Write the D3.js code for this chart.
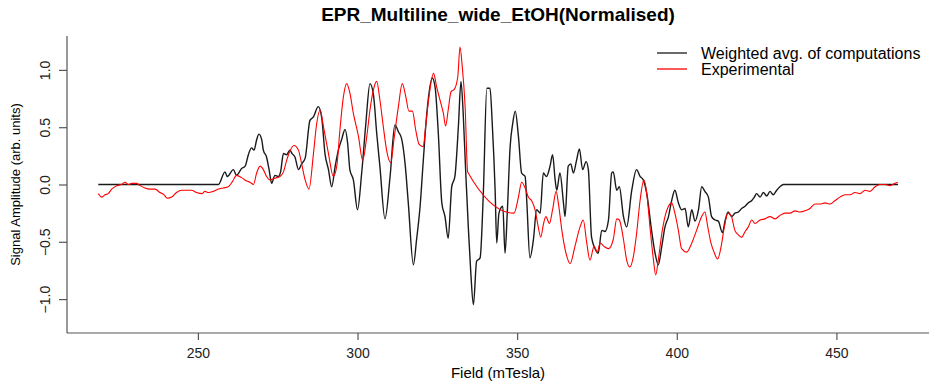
<!DOCTYPE html>
<html>
<head>
<meta charset="utf-8">
<script src="https://cdn.jsdelivr.net/npm/d3@7"></script>
<style>
  body { margin: 0; background: #fff; }
  svg { display: block; font-family: "Liberation Sans", Arial, sans-serif; }
  .axis path, .axis line { stroke: #555; stroke-width: 1.2; }
  .axis text { fill: #222; font-size: 14px; }
</style>
</head>
<body>
<svg width="929" height="384"></svg>
<script>
// Weighted avg. of computations (field in mT, normalised amplitude)
var compField = [218.8, 256.4, 258.5, 259.2, 261.1, 262.1, 263.7, 264.8, 265.8, 266.8, 267.6, 268.4, 269.1, 270.0, 270.5, 271.5, 272.3, 273.1, 274.1, 275.2, 275.9, 276.8, 277.8, 278.8, 279.5,
  280.4, 281.5, 282.5, 283.6, 285.1, 286.2, 287.7, 288.8, 289.8, 290.9, 291.9, 293.0, 294.0, 295.0, 296.1, 296.9, 297.6, 298.7, 300.0, 301.3, 302.6, 303.9, 305.0, 306.0, 307.0, 308.6, 310.2, 311.7, 312.8, 313.8, 314.9, 315.9, 317.5, 318.5, 319.6, 320.6, 321.7, 323.4, 324.3, 325.3, 326.4, 327.4, 328.4, 329.5, 330.5, 331.6, 332.4, 333.1, 333.9, 334.7, 335.5, 336.3, 337.3, 338.4, 339.4, 340.5, 341.5, 342.2, 343.1, 343.6, 344.3,
  345.5, 346.2, 346.9, 347.8, 348.6, 349.4, 350.4, 351.4, 352.5, 353.0, 354.0, 355.1, 356.1, 357.2, 358.2, 359.2, 360.3, 361.1, 361.9, 362.4, 363.4, 364.5, 365.0, 366.0, 366.8, 367.6, 368.6, 369.5, 370.5, 371.6, 372.3, 373.3, 374.4, 375.4, 376.5, 377.5, 378.6, 379.6, 380.1, 381.2, 382.0, 383.3, 384.3, 385.9, 387.4, 388.5, 389.5, 390.6, 392.1, 393.2, 394.2, 395.3, 396.3, 397.4, 398.4, 399.4, 400.5, 401.5, 402.6, 403.6, 404.7, 405.7, 406.8, 407.8, 408.8,
  409.9, 410.9, 412.0, 413.0, 414.3, 415.1, 416.1, 417.2, 418.2, 419.3, 420.3, 421.4, 422.4, 423.5, 424.3, 425.0, 426.1, 427.1, 428.2, 429.2, 430.2, 431.3, 432.3, 433.4, 469.3];
var compAmp = [0, 0, 0.11, 0.07, 0.13, 0.08, 0.14, 0.16, 0.26, 0.32, 0.30, 0.39, 0.44, 0.39, 0.30, 0.24, 0.13, 0.01, 0.08, 0.07, 0.11, 0.27, 0.26, 0.30, 0.27,
  0.24, 0.13, 0.18, 0.23, 0.56, 0.59, 0.68, 0.58, 0.27, 0.13, -0.02, 0.16, 0.30, 0.39, 0.48, 0.36, 0.13, 0.04, -0.22, 0.10, 0.53, 0.88, 0.78, 0.45, 0.16, -0.30, 0.07, 0.52, 0.46, 0.40, 0.18, -0.16, -0.70, -0.48, -0.19, 0.21, 0.62, 0.93, 0.85, 0.45, -0.16, -0.28, -0.47, -0.02, 0.07, 0.51, 0.90, 0.62, 0.10, -0.37, -0.78, -1.05, -0.67, -0.64, -0.08, 0.84, 0.84, 0.53, -0.05, -0.51, -0.25,
  -0.19, -0.60, -0.25, 0.33, 0.53, 0.64, 0.42, 0.10, 0.07, -0.14, -0.64, -0.48, -0.22, -0.25, 0.10, 0.07, 0.16, 0.26, 0.04, -0.05, 0.10, -0.16, -0.28, 0.16, 0.18, 0.10, 0.21, 0.31, 0.13, 0.20, 0.13, -0.46, -0.56, -0.60, -0.40, -0.41, -0.31, 0.10, 0.11, -0.05, -0.02, -0.28, -0.37, -0.05, 0.13, 0.07, 0.04, -0.08, -0.40, -0.60, -0.70, -0.54, -0.37, -0.28, -0.14, -0.05, -0.16, -0.22, -0.21, -0.37, -0.22, -0.32, -0.22, -0.02, -0.06,
  -0.11, -0.28, -0.31, -0.32, -0.42, -0.32, -0.24, -0.28, -0.25, -0.24, -0.21, -0.19, -0.16, -0.14, -0.11, -0.08, -0.11, -0.07, -0.10, -0.06, -0.09, -0.05, -0.02, 0, 0];

// Experimental spectrum
var expField = [218.8, 219.9, 220.9, 221.9, 223.0, 224.6, 226.1, 227.2, 228.2, 229.3, 230.8, 231.9, 233.4, 235.0, 236.6, 238.1, 239.4, 240.4, 241.8, 243.3, 244.9, 246.5, 248.0, 249.6, 251.2, 252.2, 253.3, 254.8, 256.4, 258.0, 259.5, 260.9, 262.1, 263.7, 265.3, 266.3, 267.4, 268.4, 269.5, 270.5, 271.5, 272.6, 273.6, 274.7, 275.7, 276.8, 277.8, 278.8, 280.1,
  281.5, 282.5, 283.6, 284.8, 286.2, 287.2, 288.3, 289.3, 290.9, 292.4, 293.5, 294.5, 295.6, 296.6, 297.6, 298.7, 300.3, 301.6, 302.9, 303.9, 305.0, 306.0, 307.0, 308.1, 309.1, 310.4, 311.4, 312.8, 314.0, 315.1, 316.1, 317.2, 318.2, 319.3, 320.6, 321.3, 322.4, 323.8, 324.8, 325.8, 326.9, 327.6, 328.4, 329.3, 330.3, 331.4, 332.1, 332.8, 333.7, 334.5,
  349.0, 350.4, 351.4, 352.5, 353.5, 354.5, 355.6, 356.6, 357.4, 358.2, 359.0, 360.1, 361.1, 362.2, 362.9, 364.0, 365.3, 366.6, 368.1, 369.7, 370.7, 371.8, 372.8, 374.1, 375.1, 376.0, 377.2, 378.6, 380.1, 381.2, 382.0, 383.3, 384.3, 385.3, 386.4, 387.4, 388.5, 389.7, 390.6, 391.6, 392.7, 393.4, 394.2, 395.3, 396.3, 397.4, 398.4, 399.4, 400.5, 401.5, 403.1, 404.7, 406.2, 407.8, 408.8,
  409.7, 410.7, 411.8, 412.8, 413.9, 414.9, 416.0, 417.0, 418.2, 419.3, 420.3, 421.4, 422.4, 423.5, 424.5, 426.1, 427.6, 429.2, 430.8, 432.3, 433.9, 435.5, 437.0, 438.6, 440.2, 441.7, 443.3, 444.9, 446.4, 448.0, 449.6, 451.1, 452.7, 454.3, 455.8, 457.4, 459.0, 460.5, 462.1, 463.7, 465.2, 466.8, 468.4, 469.2];
var expAmp = [-0.08, -0.11, -0.09, -0.08, -0.04, -0.01, 0.00, 0.02, 0.00, 0.01, 0.01, -0.01, -0.03, -0.04, -0.04, -0.07, -0.09, -0.12, -0.11, -0.07, -0.05, -0.05, -0.05, -0.07, -0.08, -0.06, -0.07, -0.06, -0.04, -0.03, -0.02, 0.03, 0.08, 0.06, 0.03, 0.02, 0.00, 0.10, 0.16, 0.13, 0.07, 0.04, 0.05, 0.06, 0.07, 0.11, 0.21, 0.29, 0.34,
  0.30, 0.18, 0.04, -0.04, 0.27, 0.53, 0.65, 0.51, 0.27, 0.07, 0.16, 0.48, 0.77, 0.88, 0.80, 0.62, 0.42, 0.21, 0.42, 0.65, 0.83, 0.90, 0.74, 0.50, 0.30, 0.19, 0.39, 0.68, 0.88, 0.77, 0.64, 0.64, 0.48, 0.35, 0.33, 0.50, 0.77, 0.97, 0.85, 0.74, 0.62, 0.51, 0.65, 0.81, 0.83, 0.94, 1.20, 1.03, 0.68, 0.11,
  -0.25, -0.11, 0.02, -0.03, -0.11, -0.14, -0.22, -0.37, -0.46, -0.35, -0.28, -0.34, -0.22, -0.06, -0.16, -0.40, -0.60, -0.69, -0.54, -0.37, -0.31, -0.51, -0.66, -0.54, -0.59, -0.51, -0.54, -0.56, -0.48, -0.30, -0.31, -0.48, -0.66, -0.72, -0.63, -0.43, -0.14, 0.04, -0.08, -0.37, -0.66, -0.79, -0.66, -0.43, -0.28, -0.19, -0.16, -0.25, -0.40, -0.56, -0.59, -0.51, -0.40, -0.28, -0.24,
  -0.37, -0.51, -0.60, -0.65, -0.54, -0.37, -0.25, -0.27, -0.40, -0.44, -0.46, -0.41, -0.37, -0.31, -0.34, -0.31, -0.30, -0.28, -0.30, -0.27, -0.25, -0.25, -0.23, -0.24, -0.23, -0.21, -0.17, -0.17, -0.16, -0.17, -0.14, -0.11, -0.09, -0.09, -0.07, -0.08, -0.05, -0.06, -0.02, 0.00, 0.00, -0.01, 0.01, 0.02];

var xTicks = [250, 300, 350, 400, 450];
var yTicks = [-1.0, -0.5, 0.0, 0.5, 1.0];
var seriesNames = ["Weighted avg. of computations", "Experimental"];
var seriesColors = ["#1a1a1a", "#ff0000"];

var svg = d3.select("svg"),
  plotLeft = 67, plotRight = 929, plotTop = 36, plotBottom = 333;

var x = d3.scaleLinear().domain([209, 479]).range([plotLeft, plotRight]),
  y = d3.scaleLinear().domain([-1.296, 1.296]).range([plotBottom, plotTop]);

// axes (L-shaped box like R's bty="l")
svg.append("g")
  .attr("class", "axis")
  .attr("transform", "translate(0," + plotBottom + ")")
  .call(d3.axisBottom(x).tickValues(xTicks).tickSize(7).tickPadding(8).tickSizeOuter(0))
  .call(function (g) { g.select(".domain").attr("d", "M" + plotLeft + ",0H" + plotRight); });

var yAxis = svg.append("g")
  .attr("class", "axis")
  .attr("transform", "translate(" + plotLeft + ",0)")
  .call(d3.axisLeft(y).tickValues(yTicks).tickSize(8).tickFormat(d3.format(".1f")).tickSizeOuter(0))
  .call(function (g) { g.select(".domain").attr("d", "M0," + plotTop + "V" + plotBottom); });

yAxis.selectAll(".tick text")
  .attr("x", 0).attr("dy", 0)
  .attr("text-anchor", "middle")
  .attr("transform", "translate(-17,0) rotate(-90)");

function series(fields, amps) {
  return fields.map(function (f, i) { return [f, amps[i]]; });
}

// monotone keeps the flat baselines and the straight gap segment straight
var line = d3.line()
  .x(function (d) { return x(d[0]); })
  .y(function (d) { return y(d[1]); })
  .curve(d3.curveMonotoneX);

svg.append("path")
  .datum(series(compField, compAmp))
  .attr("fill", "none")
  .attr("stroke", seriesColors[0])
  .attr("stroke-width", 1.4)
  .attr("stroke-linejoin", "round")
  .attr("d", line);

svg.append("path")
  .datum(series(expField, expAmp))
  .attr("fill", "none")
  .attr("stroke", seriesColors[1])
  .attr("stroke-width", 1.1)
  .attr("stroke-linejoin", "round")
  .attr("d", line);

// title and axis labels
svg.append("text")
  .attr("x", (plotLeft + plotRight) / 2).attr("y", 21)
  .attr("text-anchor", "middle")
  .style("font-size", "19px").style("font-weight", "bold")
  .text("EPR_Multiline_wide_EtOH(Normalised)");

svg.append("text")
  .attr("x", (plotLeft + plotRight) / 2).attr("y", 378)
  .attr("text-anchor", "middle")
  .style("font-size", "15px")
  .text("Field (mTesla)");

svg.append("text")
  .attr("transform", "translate(20," + ((plotTop + plotBottom) / 2) + ") rotate(-90)")
  .attr("text-anchor", "middle")
  .style("font-size", "13px")
  .text("Signal Amplitude (arb. units)");

// legend, no frame
var legend = svg.append("g").selectAll("g")
  .data(seriesNames)
  .enter().append("g")
  .attr("transform", function (d, i) { return "translate(657," + (53 + i * 16) + ")"; });

legend.append("line")
  .attr("x1", 0).attr("x2", 30)
  .attr("stroke", function (d, i) { return seriesColors[i]; })
  .attr("stroke-width", 1.3);

legend.append("text")
  .attr("x", 44).attr("dy", "0.35em")
  .style("font-size", "16px")
  .text(function (d) { return d; });
</script>
</body>
</html>
